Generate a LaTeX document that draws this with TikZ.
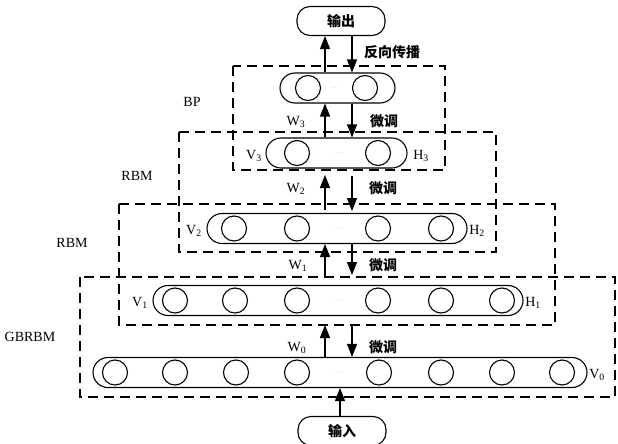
\documentclass[tikz,border=0pt]{standalone}
\usepackage{fontspec}
\setmainfont{Liberation Serif}
\newfontfamily\cjk{Noto Sans CJK SC}
\usetikzlibrary{arrows.meta}
\begin{document}
\begin{tikzpicture}[x=1pt,y=-1pt,
 fbox/.style={draw, line width=1.8pt, dash pattern=on 10pt off 6pt},
 pill/.style={draw, line width=1.1pt, rounded corners=15pt, minimum height=30pt, inner sep=0pt},
 unit/.style={draw, circle, line width=1.1pt, minimum size=25pt, inner sep=0pt},
 lbl/.style={font=\fontsize{14}{14}\selectfont, inner sep=0pt},
 zh/.style={font=\cjk\bfseries\fontsize{14}{14}\selectfont, inner sep=0pt},
 dots/.style={font=\fontsize{6}{6}\selectfont, text=gray, inner sep=0pt},
 arr/.style={line width=1.2pt, -{Triangle[length=13pt,width=10pt]}},
 term/.style={draw, line width=1.1pt, rounded corners=13pt, minimum width=88pt, minimum height=29pt, inner sep=0pt}
]
\useasboundingbox (0,0) rectangle (618,444);
\fill[white] (0,0) rectangle (618,444);

% dashed frames
\draw[fbox] (233,66) rectangle (445,170);
\draw[fbox] (179,132) rectangle (496,252);
\draw[fbox] (119,204) rectangle (555,325);
\draw[fbox] (80,277) rectangle (615,397);

% frame labels
\node[lbl] (tBP) at (192,102) {BP};
\node[lbl] (tR2) at (137,176) {RBM};
\node[lbl] (tR1) at (72,243) {RBM};
\node[lbl] (tGB) at (30,337) {GBRBM};

% terminals
\node[term] (out) at (341,21) {\cjk\bfseries\fontsize{14}{14}\selectfont 输出};
\node[term] (inp) at (342,431) {\cjk\bfseries\fontsize{14}{14}\selectfont 输入};

% layer 4 (BP)
\node[pill, minimum width=115pt] (L4) at (337.5,88) {};
\foreach \x [count=\i] in {308,365} \node[unit] (c4\i) at (\x,88) {};
\node[dots] (d4) at (336,88) {$\cdots$};

% layer 3
\node[pill, minimum width=141pt] (L3) at (336.5,153) {};
\foreach \x [count=\i] in {297,378} \node[unit] (c3\i) at (\x,153) {};
\node[dots] (d3) at (338,153) {$\cdots$};
\node[lbl] (V3) at (254,156) {V\textsubscript{3}};
\node[lbl] (H3) at (421,156) {H\textsubscript{3}};

% layer 2
\node[pill, minimum width=260pt] (L2) at (337,228.5) {};
\foreach \x [count=\i] in {234,297,378,441} \node[unit] (c2\i) at (\x,228.5) {};
\node[dots] (d2) at (338,228.5) {$\cdots$};
\node[lbl] (V2) at (194,231) {V\textsubscript{2}};
\node[lbl] (H2) at (477,231) {H\textsubscript{2}};

% layer 1
\node[pill, minimum width=370pt] (L1) at (338,300.5) {};
\foreach \x [count=\i] in {175,235,297,378,441,502} \node[unit] (c1\i) at (\x,300.5) {};
\node[dots] (d1) at (338,300.5) {$\cdots$};
\node[lbl] (V1) at (140,303) {V\textsubscript{1}};
\node[lbl] (H1) at (533,303) {H\textsubscript{1}};

% layer 0
\node[pill, minimum width=494pt] (L0) at (340,372.5) {};
\foreach \x [count=\i] in {115,175,236,297,379,441,502,562} \node[unit] (c0\i) at (\x,372.5) {};
\node[dots] (d0) at (338,372.5) {$\cdots$};
\node[lbl] (V0) at (597,375) {V\textsubscript{0}};

% arrow columns
\coordinate (ax) at (325,0);
\coordinate (bx) at (352,0);

% output <-> layer 4
\draw[arr] (L4.north -| ax) -- (out.south -| ax);
\draw[arr] (out.south -| bx) -- (L4.north -| bx);
\node[zh, anchor=west] (bp) at (364,52) {反向传播};

% layer 3 <-> layer 4
\draw[arr] (L3.north -| ax) -- (L4.south -| ax);
\draw[arr] (L4.south -| bx) -- (L3.north -| bx);
\node[lbl] (W3) at (296,122) {W\textsubscript{3}};
\node[zh] (f3) at (384,121) {微调};

% layer 2 <-> layer 3
\coordinate (a2s) at (325,210);
\coordinate (a2e) at (325,175);
\coordinate (b2s) at (352,176);
\coordinate (b2e) at (352,211);
\draw[arr] (a2s) -- (a2e);
\draw[arr] (b2s) -- (b2e);
\node[lbl] (W2) at (296,189) {W\textsubscript{2}};
\node[zh] (f2) at (383,188) {微调};

% layer 1 <-> layer 2
\coordinate (a1s) at (325,277);
\coordinate (b1e) at (352,275);
\draw[arr] (a1s) -- (L2.south -| ax);
\draw[arr] (L2.south -| bx) -- (b1e);
\node[lbl] (W1) at (298,266) {W\textsubscript{1}};
\node[zh] (f1) at (383,265) {微调};

% layer 0 <-> layer 1
\coordinate (a0e) at (325,325);
\coordinate (b0s) at (352,324);
\draw[arr] (L0.north -| ax) -- (a0e);
\draw[arr] (b0s) -- (L0.north -| bx);
\node[lbl] (W0) at (297,348) {W\textsubscript{0}};
\node[zh] (f0) at (383,347) {微调};

% input
\draw[arr] (inp.north -| 340,0) -- (L0.south -| 340,0);
\end{tikzpicture}
\end{document}
